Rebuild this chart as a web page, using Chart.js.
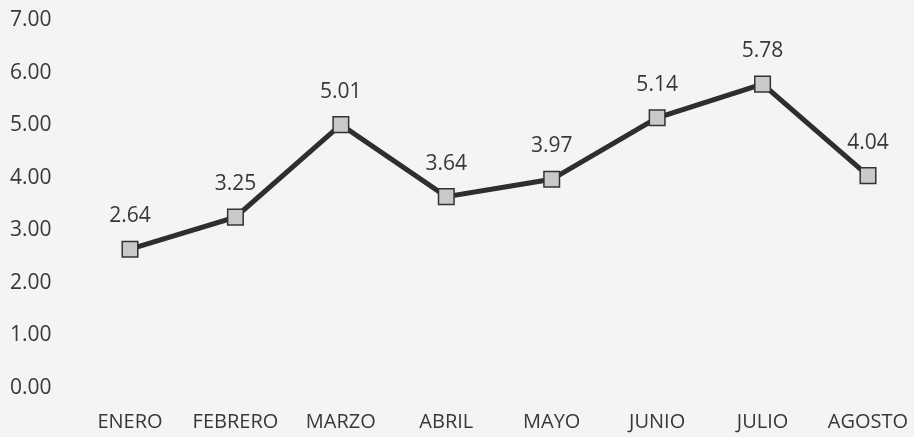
<!DOCTYPE html>
<html>
<head>
<meta charset="utf-8">
<script src="https://cdn.jsdelivr.net/npm/chart.js@4"></script>
<style>
    html, body { margin: 0; padding: 0; background: #f4f4f3; }
    #holder { width: 914px; height: 437px; }
</style>
</head>
<body>
<div id="holder"><canvas id="chart-holder"></canvas></div>
<script>
// Chart data
var meses = ['ENERO', 'FEBRERO', 'MARZO', 'ABRIL', 'MAYO', 'JUNIO', 'JULIO', 'AGOSTO'];
var valores = [2.64, 3.25, 5.01, 3.64, 3.97, 5.14, 5.78, 4.04];
var yMin = 0;
var yMax = 7;
var yStep = 1;

var fontFamily = '"Open Sans", Lato, sans-serif';
var textColor = '#383838';

// labels above each point
var valueLabels = {
    id: 'valueLabels',
    afterDatasetsDraw: function (chart) {
        var ctx = chart.ctx;
        var meta = chart.getDatasetMeta(0);
        ctx.save();
        ctx.font = '21px ' + fontFamily;
        ctx.fillStyle = textColor;
        ctx.textAlign = 'center';
        ctx.textBaseline = 'middle';
        meta.data.forEach(function (pt, i) {
            ctx.fillText(valores[i].toFixed(2), pt.x, pt.y - 33);
        });
        ctx.restore();
    }
};

var ctx = document.getElementById('chart-holder').getContext('2d');
var chart = new Chart(ctx, {
    type: 'line',
    data: {
        labels: meses,
        datasets: [{
            data: valores,
            borderColor: '#2e2e2e',
            borderWidth: 5,
            pointStyle: 'rect',
            pointRadius: 11,
            pointBorderWidth: 1.5,
            pointBorderColor: '#333333',
            pointBackgroundColor: '#c9c9c9',
            tension: 0
        }]
    },
    options: {
        responsive: true,
        maintainAspectRatio: false,
        animation: false,
        layout: { padding: { top: 20, left: 10, right: 46, bottom: 0 } },
        plugins: {
            legend: { display: false },
            tooltip: { enabled: false }
        },
        scales: {
            x: {
                offset: false,
                grid: { display: false },
                border: { display: false },
                ticks: {
                    color: textColor,
                    font: { family: fontFamily, size: 20 },
                    padding: 14,
                    maxRotation: 0,
                    autoSkip: false
                },
                afterFit: function (scale) {
                    scale.height = 49;
                    scale.paddingLeft = 0;
                    scale.paddingRight = 0;
                }
            },
            y: {
                min: yMin,
                max: yMax,
                grid: { display: false },
                border: { display: false },
                ticks: {
                    stepSize: yStep,
                    color: textColor,
                    crossAlign: 'far',
                    font: { family: fontFamily, size: 21 },
                    callback: function (v) { return v.toFixed(2); }
                },
                afterFit: function (scale) { scale.width = 120; }
            }
        }
    },
    plugins: [valueLabels]
});
</script>
</body>
</html>
